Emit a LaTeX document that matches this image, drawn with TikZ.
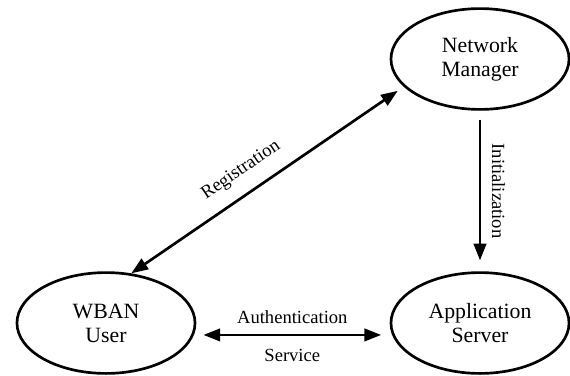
\documentclass[tikz,border=0pt]{standalone}
\usepackage{fontspec}
\setmainfont{Liberation Serif}
\usepackage{tikz}
\usetikzlibrary{shapes,arrows.meta}

\begin{document}
\begin{tikzpicture}[x=0.025cm,y=-0.025cm]
        \tikzstyle{entity}=[draw,ellipse,line width=1.9pt,minimum width=4.45cm,minimum height=2.52cm,align=center,font=\fontsize{15.5}{17}\selectfont]
        \tikzstyle{link}=[line width=1.9pt,arrows={Triangle[length=0.42cm,width=0.31cm]-Triangle[length=0.42cm,width=0.31cm]}]
        \tikzstyle{linklabel}=[font=\fontsize{13.2}{15}\selectfont]

        \useasboundingbox (0,0) rectangle (570,375);

        %% Entities
        \node [entity] (nm) at (480,59) {Network\\Manager};
        \node [entity] (wban) at (106,323) {WBAN\\User};
        \node [entity] (app) at (480,323) {Application\\Server};

        %% Links
        \draw [link,shorten >=0.18cm] (wban.63) -- (nm.200)
            node [linklabel,pos=0.45,sloped,above=6pt] (reg) {Registration};
        \draw [link,arrows={-Triangle[length=0.42cm,width=0.31cm]},shorten <=0.22cm,shorten >=0.27cm] (nm) -- (app)
            node [linklabel,midway,rotate=-90,anchor=south,inner sep=7.5pt] (init) {Initialization};
        \draw [link] ([xshift=5pt,yshift=-8.5pt]wban.east) -- ([xshift=-6pt,yshift=-8.5pt]app.west)
            node [linklabel,midway,above=3.5pt] (auth) {Authentication}
            node [linklabel,midway,below=5.5pt] (serv) {Service};

    \end{tikzpicture}
\end{document}
